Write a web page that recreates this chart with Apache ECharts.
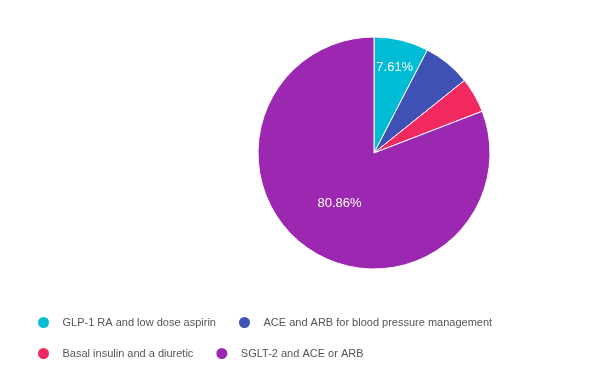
<!DOCTYPE html>
<html>
<head>
<meta charset="utf-8">
<script src="https://cdn.jsdelivr.net/npm/echarts@6/dist/echarts.min.js"></script>
<style>
  html, body { margin: 0; padding: 0; background: #fff; }
  #main { width: 600px; height: 377px; }
</style>
</head>
<body>
<div id="main"></div>
<script>
// 数据
var categories = ['GLP-1 RA and low dose aspirin', 'ACE and ARB for blood pressure management', 'Basal insulin and a diuretic', 'SGLT-2 and ACE or ARB'];
var shares = [7.61, 6.63, 4.90, 80.86];
var colors = ['#00bcd4', '#3f51b5', '#f2295f', '#9c27b0'];

var cx = 374, cy = 153, R = 116;

var myChart = echarts.init(document.getElementById('main'));
var option = {
    color: colors,
    animation: false,
    legend: {
        left: 31,
        top: 310,
        width: 500,
        icon: 'circle',
        itemWidth: 28,
        itemHeight: 13,
        itemGap: 16,
        textStyle: {
            color: '#555',
            fontSize: 11,
            lineHeight: 15,
            padding: [0, 5, 0, 0],
            fontFamily: 'Liberation Sans, Arial, sans-serif'
        },
        data: categories
    },
    series: [{
        type: 'pie',
        center: [cx, cy],
        radius: R,
        startAngle: 90,
        clockwise: true,
        itemStyle: { borderColor: '#fff', borderWidth: 1 },
        label: {
            position: 'inside',
            formatter: function (p) { return p.percent < 7 ? '' : p.percent.toFixed(2) + '%'; },
            color: '#fff',
            fontSize: 13,
            fontFamily: 'Liberation Sans, Arial, sans-serif'
        },
        labelLine: { show: false },
        // 小扇区的标签外移
        labelLayout: function (p) {
            if (shares[p.dataIndex] > 50) return {};
            var r = p.labelRect;
            var lx = r.x + r.width / 2, ly = r.y + r.height / 2;
            var vx = lx - cx, vy = ly - cy;
            var d = Math.sqrt(vx * vx + vy * vy) || 1;
            var k = (0.755 * R) / d;
            return { dx: vx * (k - 1), dy: vy * (k - 1) };
        },
        emphasis: { disabled: true },
        data: categories.map(function (c, i) { return { name: c, value: shares[i] }; })
    }]
};
myChart.setOption(option);
</script>
</body>
</html>
